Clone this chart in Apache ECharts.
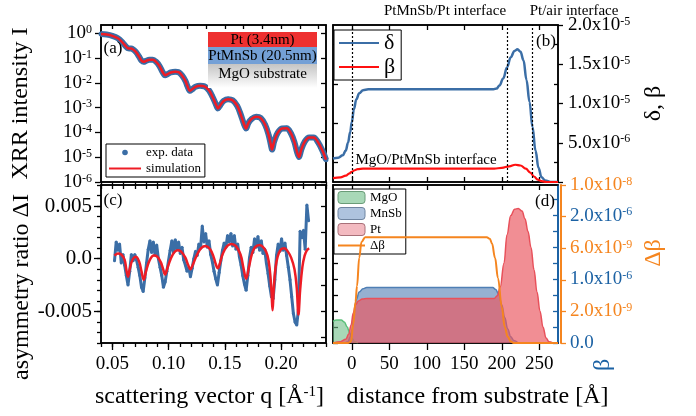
<!DOCTYPE html>
<html><head><meta charset="utf-8">
<script src="https://cdn.jsdelivr.net/npm/echarts@6/dist/echarts.min.js"></script>
<style>html,body{margin:0;padding:0;background:#fff}#c{width:696px;height:416px}</style>
</head><body><div id="c"></div>
<script>
// ================= DATA =================
// (a) XRR: scattering vector q [1/Å] and log10 of reflected intensity (exp. data and simulation overlap)
const qXRR = [0.040,0.045,0.050,0.055,0.059,0.062,0.064,0.066,0.068,0.071,0.074,0.076,0.078,0.080,0.083,0.086,0.089,0.092,0.095,0.097,0.099,0.102,0.106,0.109,0.112,0.115,0.117,0.119,0.121,0.124,0.128,0.132,0.136,0.139,0.142,0.144,0.146,0.149,0.153,0.157,0.161,0.164,0.167,0.169,0.171,0.174,0.178,0.182,0.186,0.189,0.191,0.192,0.194,0.197,0.201,0.205,0.209,0.212,0.214,0.216,0.218,0.221,0.225,0.229,0.233,0.237,0.240];
const xrrLog = [-0.03,-0.05,-0.10,-0.20,-0.36,-0.52,-0.60,-0.61,-0.63,-0.75,-0.95,-1.10,-1.15,-1.11,-1.07,-1.07,-1.15,-1.32,-1.58,-1.69,-1.65,-1.58,-1.55,-1.57,-1.70,-1.92,-2.15,-2.32,-2.26,-2.16,-2.12,-2.14,-2.30,-2.55,-2.85,-3.03,-2.90,-2.73,-2.66,-2.70,-2.92,-3.25,-3.65,-3.84,-3.62,-3.45,-3.37,-3.42,-3.70,-4.10,-4.50,-4.69,-4.35,-4.02,-3.84,-3.83,-4.05,-4.40,-4.75,-4.99,-4.70,-4.38,-4.20,-4.20,-4.40,-4.75,-5.10];

// (c) asymmetry ratio
const qAsymExp = [0.0520,0.0535,0.0550,0.0565,0.0580,0.0595,0.0610,0.0625,0.0640,0.0655,0.0670,0.0685,0.0700,0.0715,0.0730,0.0745,0.0760,0.0775,0.0790,0.0805,0.0820,0.0835,0.0850,0.0865,0.0880,0.0895,0.0910,0.0925,0.0940,0.0955,0.0970,0.0985,0.1000,0.1015,0.1030,0.1045,0.1060,0.1075,0.1090,0.1105,0.1120,0.1135,0.1150,0.1165,0.1180,0.1195,0.1210,0.1225,0.1240,0.1255,0.1270,0.1285,0.1300,0.1315,0.1330,0.1345,0.1360,0.1375,0.1390,0.1405,0.1420,0.1435,0.1450,0.1465,0.1480,0.1495,0.1510,0.1525,0.1540,0.1555,0.1570,0.1585,0.1600,0.1615,0.1630,0.1645,0.1660,0.1675,0.1690,0.1705,0.1720,0.1735,0.1750,0.1765,0.1780,0.1795,0.1810,0.1825,0.1840,0.1855,0.1870,0.1885,0.1900,0.1915,0.1930,0.1945,0.1960,0.1975,0.1990,0.2005,0.2020,0.2035,0.2050,0.2065,0.2080,0.2095,0.2110,0.2125,0.2140,0.2155,0.2170,0.2185,0.2200,0.2215,0.2230,0.2245];
const asymExp = [-0.0002,0.0016,0.0008,0.0014,-0.0004,0.0004,-0.0006,-0.0016,-0.0025,-0.0012,0.0004,-0.0002,0.0004,-0.0001,-0.0008,-0.0016,-0.0027,-0.0031,-0.0018,-0.0004,0.0009,0.0017,0.0006,0.0016,0.0004,0.0013,0.0000,-0.0008,-0.0016,-0.0027,-0.0022,-0.0012,-0.0002,0.0008,0.0017,0.0006,0.0018,0.0009,0.0016,0.0005,0.0011,-0.0001,-0.0006,-0.0012,-0.0008,-0.0017,-0.0009,0.0000,0.0007,0.0003,0.0014,0.0010,0.0031,0.0016,0.0024,0.0011,0.0017,0.0004,-0.0003,-0.0012,-0.0019,-0.0025,-0.0013,-0.0002,0.0008,0.0015,0.0011,0.0022,0.0016,0.0024,0.0012,0.0022,0.0009,0.0014,0.0002,-0.0006,-0.0016,-0.0024,-0.0030,-0.0016,0.0001,0.0011,0.0006,0.0019,0.0011,0.0021,0.0008,0.0017,0.0005,0.0009,-0.0004,-0.0014,-0.0026,-0.0036,-0.0038,-0.0020,0.0003,0.0014,0.0007,0.0019,0.0008,0.0015,0.0003,-0.0008,-0.0020,-0.0036,-0.0052,-0.0060,-0.0063,-0.0048,0.0026,0.0020,0.0027,0.0009,0.0051,0.0036];
const qAsymSim = [0.052,0.055,0.058,0.061,0.0625,0.064,0.0655,0.068,0.071,0.074,0.076,0.078,0.080,0.083,0.087,0.090,0.093,0.095,0.097,0.099,0.102,0.105,0.108,0.111,0.115,0.1175,0.1195,0.1215,0.125,0.129,0.133,0.137,0.140,0.142,0.1438,0.1455,0.148,0.152,0.156,0.160,0.164,0.1665,0.169,0.1715,0.174,0.177,0.181,0.185,0.188,0.190,0.1915,0.1925,0.1935,0.195,0.197,0.200,0.203,0.206,0.209,0.212,0.214,0.2155,0.217,0.219,0.221,0.223,0.225];
const asymSim = [0.0003,0.0005,0.0004,-0.0001,-0.0010,-0.0017,-0.0010,-0.0001,0.0002,-0.0003,-0.0012,-0.0020,-0.0012,-0.0002,0.0003,0.0002,-0.0003,-0.0009,-0.0015,-0.0009,0.0000,0.0006,0.0008,0.0007,0.0001,-0.0006,-0.0010,-0.0006,0.0003,0.0010,0.0012,0.0009,0.0002,-0.0005,-0.0009,-0.0005,0.0004,0.0012,0.0014,0.0012,0.0004,-0.0008,-0.0019,-0.0008,0.0004,0.0011,0.0013,0.0010,0.0003,-0.0010,-0.0030,-0.0049,-0.0030,-0.0010,0.0002,0.0009,0.0010,0.0007,0.0001,-0.0010,-0.0028,-0.0053,-0.0030,-0.0008,0.0003,0.0008,0.0010];

// (b) optical profiles vs distance from substrate [Å]  (values in units of 1e-5)
const distDelta = [-25,-18,-12,-8,-5,-2,0,3,6,10,15,22,60,120,185,189,193,197,202,207,212,217,221,225,229,233,237,241,245,249,253,258,265,275];
const deltaE5  = [0.30,0.31,0.34,0.40,0.50,0.64,0.76,0.93,1.05,1.13,1.17,1.18,1.18,1.18,1.18,1.18,1.19,1.23,1.32,1.46,1.59,1.67,1.69,1.66,1.55,1.30,1.02,0.70,0.40,0.18,0.06,0.02,0.00,0.00];
const distBeta = [-25,-15,-8,-3,0,4,8,15,60,120,190,200,210,218,225,232,238,243,248,253,260,275];
const betaE5   = [0.05,0.06,0.08,0.11,0.13,0.15,0.165,0.17,0.17,0.17,0.17,0.18,0.20,0.22,0.21,0.17,0.12,0.07,0.03,0.01,0.0,0.0];
const interfaceDist = [0, 207, 241];

// (d) element-resolved β (units 1e-6) and Δβ (units 1e-9)
const distMgO  = [-25,-20,-14,-10,-6,-3,0,4,8];
const mgoE6    = [0.34,0.36,0.36,0.33,0.25,0.16,0.08,0.02,0.0];
const distMnSb = [-25,-10,-5,-2,0,3,6,10,15,20,100,188,192,196,200,204,208,212,216,222];
const mnsbE6   = [0,0,0.02,0.10,0.20,0.45,0.68,0.80,0.85,0.87,0.87,0.87,0.84,0.76,0.60,0.40,0.22,0.10,0.04,0.0];
const distPt   = [-25,-15,-8,-4,-1,2,5,9,14,20,100,190,194,198,203,207,212,217,222,227,231,235,239,243,247,251,255,259,263,268];
const ptE6     = [0,0.02,0.06,0.14,0.28,0.47,0.60,0.66,0.69,0.70,0.70,0.70,0.74,0.88,1.25,1.70,2.00,2.10,2.11,2.07,1.95,1.75,1.50,1.15,0.80,0.50,0.25,0.08,0.02,0.0];
const distDB   = [-25,-5,-1,2,5,7,10,13,18,100,180,184,187,191,195,200,204,208,212,216,275];
const dbE9     = [0,0,0.1,1.2,2.6,3.6,5.4,6.4,6.7,6.7,6.7,6.6,6.3,5.4,4.1,2.3,1.0,0.4,0.1,0,0];

// tick values / labels
const qTicksMajor = [0.05,0.10,0.15,0.20];
const qTicksMinor = [0.04,0.05,0.06,0.07,0.08,0.09,0.10,0.11,0.12,0.13,0.14,0.15,0.16,0.17,0.18,0.19,0.20,0.21,0.22,0.23,0.24];
const xrrTicks = [1e-6,1e-5,1e-4,1e-3,1e-2,1e-1,1];
const asymTicksMajor = [-0.005,0,0.005];
const asymTicksMinor = [-0.008,-0.007,-0.006,-0.005,-0.004,-0.003,-0.002,-0.001,0,0.001,0.002,0.003,0.004,0.005,0.006,0.007];
const asymTicksRight = [-0.0075,-0.005,-0.0025,0,0.0025,0.005];
const distTicks = [0,50,100,150,200,250];
const dbTicksMajor = [0,5e-6,1e-5,1.5e-5,2e-5];
const dbLabels = [5e-6,1e-5,1.5e-5,2e-5];
const dbTicksMinor = [2.5e-6,7.5e-6,1.25e-5,1.75e-5];
const betaTicks = [0,2.5e-7,5e-7,7.5e-7,1e-6,1.25e-6,1.5e-6,1.75e-6,2e-6,2.25e-6];
const betaLabels = [0,1e-6,2e-6];
const dBetaTicks = [0,2e-9,4e-9,6e-9,8e-9,1e-8];
const dBetaLabels = [2e-9,6e-9,1e-8];

// ================= CHART =================
const FONT = "'Liberation Serif','Times New Roman',serif";
const BLUE = '#3b6ea6', RED = '#ee1c25', BETA_RED = '#ff1010';
const AXBLUE = '#1c62a4', ORANGE = '#f5851f';

function sup(color){ return {sup:{fontSize:12, verticalAlign:'top', fontFamily:FONT, color:color||'#000', padding:[0,0,6,0]}}; }
function sciLabel(v){
  if (v === 0) return '0.0';
  const e = Math.floor(Math.log10(v) + 1e-9);
  const m = v / Math.pow(10, e);
  return m.toFixed(1) + 'x10{sup|' + e + '}';
}
function tick(vals, inside, len, color){
  return {show:true, inside:inside, length:len, customValues:vals, lineStyle:{color:color||'#000', width:1.3}};
}
function baseAxis(o){
  return Object.assign({type:'value', splitLine:{show:false},
    axisLine:{show:true, onZero:false, lineStyle:{color:'#000', width:1.5}},
    axisTick:{show:false}, axisLabel:{show:false}}, o);
}
const noLine = {show:false, onZero:false};

const gA = {left:101, top:25, width:225, height:157};
const gB = {left:333, top:25, width:225, height:157};
const gC = {left:101, top:185, width:225, height:158};
const gD = {left:333, top:185, width:225, height:158};
const frame = {show:true, borderColor:'#000', borderWidth:1.5, backgroundColor:'transparent'};

const option = {
  animation:false,
  textStyle:{fontFamily:FONT},
  grid:[
    Object.assign({}, gA, frame),
    Object.assign({}, gB, frame),
    Object.assign({}, gC, frame),
    Object.assign({}, gD, frame),
    Object.assign({}, gB),
    Object.assign({}, gC),
    Object.assign({}, gD)
  ],
  xAxis:[
    baseAxis({gridIndex:0, position:'bottom', min:0.04, max:0.24, axisTick:tick(qTicksMinor,false,4)}),
    baseAxis({gridIndex:0, position:'top', min:0.04, max:0.24,
      axisTick:tick([0.05,0.0667,0.0833,0.10,0.1167,0.1333,0.15,0.1667,0.1833,0.20,0.2167,0.2333],true,4)}),
    baseAxis({gridIndex:2, position:'bottom', min:0.04, max:0.24, axisTick:tick(qTicksMajor,false,7),
      axisLabel:{show:true, customValues:qTicksMajor, formatter:v=>v.toFixed(2), fontSize:19, fontFamily:FONT, color:'#000', margin:12},
      name:'scattering vector q [Å{sup|-1}]', nameLocation:'middle', nameGap:42,
      nameTextStyle:{fontSize:24, fontFamily:FONT, color:'#000', padding:[0,8,0,0], rich:{sup:{fontSize:15, verticalAlign:'top', fontFamily:FONT, color:'#000', padding:[0,0,8,0]}}}}),
    baseAxis({gridIndex:2, position:'top', min:0.04, max:0.24, axisTick:tick(qTicksMinor,true,4)}),
    baseAxis({gridIndex:1, position:'bottom', min:-25, max:275, axisTick:tick(distTicks,true,5)}),
    baseAxis({gridIndex:1, position:'top', min:-25, max:275, axisTick:tick(distTicks,true,5)}),
    baseAxis({gridIndex:3, position:'bottom', min:-25, max:275, axisTick:tick(distTicks,false,7),
      axisLabel:{show:true, customValues:distTicks, fontSize:19, fontFamily:FONT, color:'#000', margin:12},
      name:'distance from substrate [Å]', nameLocation:'middle', nameGap:42,
      nameTextStyle:{fontSize:24, fontFamily:FONT, color:'#000', padding:[0,0,0,64]}}),
    baseAxis({gridIndex:3, position:'top', min:-25, max:275, axisTick:tick(distTicks,true,5)}),
    baseAxis({gridIndex:4, show:false, min:-25, max:275}),
    baseAxis({gridIndex:5, position:'bottom', min:0.04, max:0.24, axisLine:noLine, axisTick:tick(qTicksMinor,false,4)}),
    baseAxis({gridIndex:6, show:false, min:-25, max:275})
  ],
  yAxis:[
    baseAxis({gridIndex:0, type:'log', logBase:10, position:'left', min:1e-6, max:2.17, axisTick:tick(xrrTicks,false,6),
      axisLabel:{show:true, customValues:xrrTicks, formatter:v=>'10{sup|'+Math.round(Math.log10(v))+'}', fontSize:19, fontFamily:FONT, color:'#000', margin:9, rich:sup('#000')},
      name:'XRR intensity I', nameLocation:'middle', nameGap:68, nameRotate:90,
      nameTextStyle:{fontSize:24, fontFamily:FONT, color:'#000'}}),
    baseAxis({gridIndex:0, type:'log', logBase:10, position:'right', min:1e-6, max:2.17, axisTick:tick(xrrTicks,true,5)}),
    baseAxis({gridIndex:2, position:'left', min:-0.008, max:0.007, axisTick:tick(asymTicksMajor,false,7),
      axisLabel:{show:true, customValues:asymTicksMajor, formatter:v=>v===0?'0.0':v.toFixed(3), fontSize:21, fontFamily:FONT, color:'#000', margin:9},
      name:'asymmetry ratio ΔI', nameLocation:'middle', nameGap:66, nameRotate:90,
      nameTextStyle:{fontSize:24, fontFamily:FONT, color:'#000', padding:[0,46,0,0]}}),
    baseAxis({gridIndex:2, position:'right', min:-0.008, max:0.007, axisTick:tick(asymTicksRight,true,5)}),
    baseAxis({gridIndex:1, position:'right', min:0, max:2e-5, axisTick:tick(dbTicksMajor,false,5),
      axisLabel:{show:true, customValues:dbLabels, formatter:sciLabel, fontSize:19, fontFamily:FONT, color:'#000', margin:10, rich:sup('#000')},
      name:'δ, β', nameLocation:'middle', nameGap:84, nameRotate:90,
      nameTextStyle:{fontSize:24, fontFamily:FONT, color:'#000'}}),
    baseAxis({gridIndex:1, position:'left', min:0, max:2e-5, axisTick:tick(dbTicksMinor,true,5)}),
    baseAxis({gridIndex:3, position:'right', min:0, max:2.48e-6,
      axisLine:{show:true, onZero:false, lineStyle:{color:AXBLUE, width:2}},
      axisTick:tick(betaTicks,true,5,AXBLUE),
      axisLabel:{show:true, customValues:betaLabels, formatter:sciLabel, fontSize:19, fontFamily:FONT, color:AXBLUE, margin:12, rich:sup(AXBLUE)}}),
    baseAxis({gridIndex:3, position:'left', min:0, max:2.48e-6, axisTick:tick(betaTicks,true,5)}),
    baseAxis({gridIndex:4, position:'right', min:0, max:2e-5, axisLine:noLine, axisTick:tick(dbTicksMinor,true,4)}),
    baseAxis({gridIndex:5, position:'left', min:-0.008, max:0.007, axisLine:noLine, axisTick:tick(asymTicksMinor,false,4)}),
    baseAxis({gridIndex:6, position:'right', offset:3, min:0, max:1e-8,
      axisLine:{show:true, onZero:false, lineStyle:{color:ORANGE, width:2}},
      axisTick:tick(dBetaTicks,false,5,ORANGE),
      axisLabel:{show:true, customValues:dBetaLabels, formatter:sciLabel, fontSize:19, fontFamily:FONT, color:ORANGE, margin:9, rich:sup(ORANGE)},
      name:'Δβ', nameLocation:'middle', nameGap:81, nameRotate:90,
      nameTextStyle:{fontSize:24, fontFamily:FONT, color:ORANGE, padding:[0,0,0,22]}})
  ],
  legend:[
    {data:[{name:'exp. data', lineStyle:{opacity:0}}, {name:'simulation', itemStyle:{opacity:0}}],
     left:106, top:144, orient:'vertical', itemWidth:32, itemHeight:7, itemGap:3, padding:[2,4,2,2],
     borderColor:'#000', borderWidth:1, backgroundColor:'#fff', textStyle:{fontSize:13, fontFamily:FONT, color:'#000'}, selectedMode:false},
    {data:[{name:'δ', itemStyle:{opacity:0}}, {name:'β', itemStyle:{opacity:0}}],
     left:334, top:30, orient:'vertical', itemWidth:40, itemHeight:10, itemGap:2, padding:[2,6,2,4],
     borderColor:'#000', borderWidth:1, backgroundColor:'#fff', textStyle:{fontSize:22, fontFamily:FONT, color:'#000'}, selectedMode:false},
    {data:[
       {name:'MgO', icon:'roundRect', itemStyle:{color:'rgba(110,190,135,0.6)', borderColor:'#6a9c78', borderWidth:1}},
       {name:'MnSb', icon:'roundRect', itemStyle:{color:'rgba(120,155,200,0.6)', borderColor:'#6f84a0', borderWidth:1}},
       {name:'Pt', icon:'roundRect', itemStyle:{color:'rgba(235,140,150,0.6)', borderColor:'#a87078', borderWidth:1}},
       {name:'Δβ', itemStyle:{opacity:0}}],
     left:334, top:189, orient:'vertical', itemWidth:27, itemHeight:12, itemGap:3, padding:[2,4,2,3], symbolKeepAspect:false,
     borderColor:'#000', borderWidth:1, backgroundColor:'#fff', textStyle:{fontSize:13, fontFamily:FONT, color:'#000'}, selectedMode:false}
  ],
  series:[
    {name:'exp. data', type:'line', xAxisIndex:0, yAxisIndex:0, smooth:0.35,
     data:qXRR.map((q,i)=>[q, Math.pow(10, xrrLog[i])]),
     symbol:'circle', symbolSize:5, showSymbol:true, itemStyle:{color:BLUE}, lineStyle:{color:BLUE, width:6}, z:2},
    {name:'simulation', type:'line', xAxisIndex:0, yAxisIndex:0, smooth:0.35,
     data:qXRR.map((q,i)=>[q, Math.pow(10, xrrLog[i])]),
     symbol:'none', itemStyle:{color:RED}, lineStyle:{color:RED, width:2.5}, z:3},
    {name:'δ', type:'line', xAxisIndex:4, yAxisIndex:4, smooth:0.4, smoothMonotone:'x',
     data:distDelta.map((d,i)=>[d, deltaE5[i]*1e-5]), symbol:'none',
     itemStyle:{color:BLUE}, lineStyle:{color:BLUE, width:2.5}, z:3,
     markLine:{silent:true, symbol:['none','none'], label:{show:false}, animation:false,
       lineStyle:{color:'#000', type:[2,2], width:1.2}, data:interfaceDist.map(d=>({xAxis:d}))}},
    {name:'β', type:'line', xAxisIndex:4, yAxisIndex:4, smooth:0.4, smoothMonotone:'x',
     data:distBeta.map((d,i)=>[d, betaE5[i]*1e-5]), symbol:'none',
     itemStyle:{color:BETA_RED}, lineStyle:{color:BETA_RED, width:2.2}, z:3},
    {name:'asym exp', type:'line', xAxisIndex:2, yAxisIndex:2,
     data:qAsymExp.map((q,i)=>[q, asymExp[i]]), symbol:'circle', symbolSize:3, showSymbol:true,
     itemStyle:{color:BLUE}, lineStyle:{color:BLUE, width:3}, z:2},
    {name:'asym sim', type:'line', xAxisIndex:2, yAxisIndex:2, smooth:0.4,
     data:qAsymSim.map((q,i)=>[q, asymSim[i]]), symbol:'none',
     itemStyle:{color:RED}, lineStyle:{color:RED, width:2.5}, z:3},
    {name:'MgO', type:'line', xAxisIndex:6, yAxisIndex:6, smooth:0.4, smoothMonotone:'x',
     data:distMgO.map((d,i)=>[d, mgoE6[i]*1e-6]), symbol:'none',
     itemStyle:{color:'#5cc07a'}, lineStyle:{color:'#5cc07a', width:1.5}, areaStyle:{color:'rgba(110,190,135,0.6)', opacity:1}, z:2},
    {name:'MnSb', type:'line', xAxisIndex:6, yAxisIndex:6, smooth:0.4, smoothMonotone:'x',
     data:distMnSb.map((d,i)=>[d, mnsbE6[i]*1e-6]), symbol:'none',
     itemStyle:{color:'#4f7fb5'}, lineStyle:{color:'#4f7fb5', width:1.5}, areaStyle:{color:'rgba(85,128,180,0.62)', opacity:1}, z:2},
    {name:'Pt', type:'line', xAxisIndex:6, yAxisIndex:6, smooth:0.4, smoothMonotone:'x',
     data:distPt.map((d,i)=>[d, ptE6[i]*1e-6]), symbol:'none',
     itemStyle:{color:'#e8505a'}, lineStyle:{color:'#e8505a', width:1.5}, areaStyle:{color:'rgba(234,88,98,0.68)', opacity:1}, z:3},
    {name:'Δβ', type:'line', xAxisIndex:10, yAxisIndex:10, smooth:0.4, smoothMonotone:'x',
     data:distDB.map((d,i)=>[d, dbE9[i]*1e-9]), symbol:'none',
     itemStyle:{color:ORANGE}, lineStyle:{color:ORANGE, width:2}, z:4}
  ],
  graphic:{elements:[
    {type:'rect', z:5, shape:{x:208, y:32, width:109, height:15}, style:{fill:'#ee3030'}},
    {type:'rect', z:5, shape:{x:208, y:47, width:109, height:17}, style:{fill:'#74a0d6'}},
    {type:'rect', z:5, shape:{x:208, y:64, width:109, height:24},
      style:{fill:new echarts.graphic.LinearGradient(0,0,0,1,[{offset:0,color:'#c4c4c4'},{offset:1,color:'#ffffff'}])}},
    {type:'text', z:6, x:262.5, y:40, style:{text:'Pt (3.4nm)', font:'15px '+FONT, fill:'#000', align:'center', verticalAlign:'middle'}},
    {type:'text', z:6, x:262.5, y:56, style:{text:'PtMnSb (20.5nm)', font:'15px '+FONT, fill:'#000', align:'center', verticalAlign:'middle'}},
    {type:'text', z:6, x:262.5, y:74, style:{text:'MgO substrate', font:'15px '+FONT, fill:'#000', align:'center', verticalAlign:'middle'}},
    {type:'text', z:6, x:113, y:49, style:{text:'(a)', font:'17px '+FONT, fill:'#000', align:'center', verticalAlign:'middle'}},
    {type:'text', z:6, x:546, y:42, style:{text:'(b)', font:'17px '+FONT, fill:'#000', align:'center', verticalAlign:'middle'}},
    {type:'text', z:6, x:113, y:201, style:{text:'(c)', font:'17px '+FONT, fill:'#000', align:'center', verticalAlign:'middle'}},
    {type:'text', z:6, x:545, y:202, style:{text:'(d)', font:'17px '+FONT, fill:'#000', align:'center', verticalAlign:'middle'}},
    {type:'text', z:6, x:445, y:11, style:{text:'PtMnSb/Pt interface', font:'15px '+FONT, fill:'#000', align:'center', verticalAlign:'middle'}},
    {type:'text', z:6, x:574, y:11, style:{text:'Pt/air interface', font:'15px '+FONT, fill:'#000', align:'center', verticalAlign:'middle'}},
    {type:'text', z:6, x:426, y:160, style:{text:'MgO/PtMnSb interface', font:'15px '+FONT, fill:'#000', align:'center', verticalAlign:'middle'}},
    {type:'text', z:6, x:603, y:365, rotation:Math.PI/2, style:{text:'β', font:'24px '+FONT, fill:AXBLUE, align:'center', verticalAlign:'middle'}}
  ]}
};
const chart = echarts.init(document.getElementById('c'), null, {renderer:'canvas', width:696, height:416});
chart.setOption(option);
</script>
</body></html>
